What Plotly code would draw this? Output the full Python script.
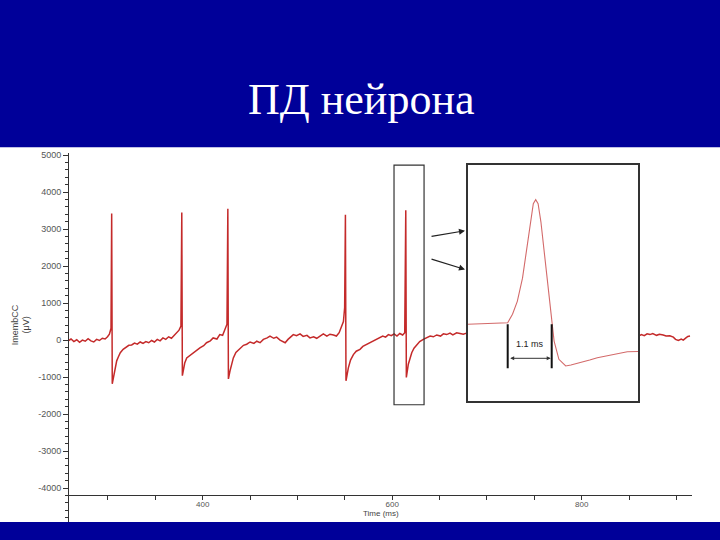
import plotly.graph_objects as go

# Membrane current trace (time in ms, current in µV).
trace_time_left = [
    258, 261, 264, 267, 270, 273, 276, 279, 282, 285, 288, 291, 294, 297, 299.5,
    301.5, 303.2, 303.9, 304.5, 305.6, 307.4, 309.2, 311, 313, 316, 319, 322, 325,
    328, 331, 334, 337, 340, 343, 346, 349, 352, 355, 358, 361, 364, 367, 370,
    372.5, 375, 377, 377.9, 378.5, 379.5, 381, 383.1, 386, 390, 393, 397, 401,
    404, 408, 411, 415, 418, 421, 423.5, 425.6, 426.5, 427.1, 428.8, 430.5, 432.3,
    435, 439.4, 443, 446.4, 450, 454, 457, 460.5, 464, 468, 471, 475, 478, 481.6,
    484, 487, 490, 493, 495.6, 499, 502.7, 506, 510, 513.2, 517, 520.3, 524,
    527.3, 531, 534.3, 538, 541.1, 544, 546.7, 548.5, 549.8, 550.6, 551.2, 553.7,
    556, 559, 562, 566, 569, 573, 576, 580, 583.5, 587, 590, 593, 596, 599, 602,
    605, 608, 611, 613.2, 614.3, 614.9, 617, 620.6, 623, 625.9, 629, 632.8, 636,
    640, 643.4, 647, 651, 654, 657.5, 661, 664, 668, 671.6, 675, 678.5,
]
trace_uv_left = [
    -20, 30, -40, 10, -60, 0, -30, 40, -20, -50, 20, -10, 50, 30, 90,
    160, 320, 3420, -1180, -1010, -750, -560, -450, -340, -250, -200, -140, -130,
    -80, -110, -50, -90, -40, -70, -10, -50, 20, -20, 60, 20, 90, 50, 140,
    190, 270, 380, 3450, -960, -830, -620, -480, -420, -340, -280, -210, -150,
    -70, -20, 60, 30, 150, 130, 300, 430, 3550, -1050, -830, -620, -480,
    -330, -210, -140, -110, -50, -90, -30, -70, 20, 60, 110, 50, 80, 0,
    -40, -70, 20, 90, 150, 120, 170, 100, 130, 60, 90, 50, 120,
    170, 110, 160, 140, 110, 200, 380, 500, 880, 3390, -1100, -750,
    -540, -390, -300, -250, -170, -120, -60, -30, 30, 60, 110, 80, 150, 120, 170,
    110, 180, 140, 200, 3510, -1010, -650, -340, -220, -120, -40, 20, 60,
    110, 90, 140, 110, 170, 150, 190, 140, 200, 180, 160, 190,
]
trace_time_right = [
    860, 863, 866, 869, 872, 875, 879, 882, 886, 889, 893, 896.7, 899, 902, 905,
    907.2, 910, 912, 914.3,
]
trace_uv_right = [
    110, 150, 120, 170, 150, 180, 130, 160, 140, 110, 120, 80, 20, -10, 30,
    0, 60, 100, 110,
]

# Enlarged single action potential (time in ms from window start, µV).
inset_time = [
    0.0, 0.4, 0.8, 1.0, 1.12, 1.24, 1.37, 1.49, 1.58, 1.64, 1.70, 1.76, 1.83,
    1.91, 2.0, 2.08, 2.16, 2.28, 2.45, 2.58, 2.83, 3.05, 3.24, 3.45, 3.66, 3.85,
    3.99, 4.26,
]
inset_uv = [
    0, 10, 28, 42, 280, 644, 1296, 2240, 2976, 3396, 3508, 3396, 2884,
    2044, 1120, 176, -476, -988, -1176, -1150, -1084, -1010, -944, -900, -848,
    -800, -776, -770,
]

spike_start_ms = 1.0
spike_end_ms = 2.1
spike_width_label = "1.1 ms"
marker_depth_uv = -1240
arrow_level_uv = -960

# Spike picked out for the enlargement.
window_time = [601.9, 633.6]
window_uv = [-1747, 4731]
pointer_tails = [(639.9, 2796), (639.9, 2204)]
pointer_tips = [(676.8, 2957), (676.8, 1909)]

y_tick_values = [-4000, -3000, -2000, -1000, 0, 1000, 2000, 3000, 4000, 5000]
y_tick_labels = ["-4000", "-3000", "-2000", "-1000", "0",
                 "1000", "2000", "3000", "4000", "5000"]

TRACE_RED = "#c42a2a"
SLIDE_BLUE = "#000099"
AXIS = "#333333"
W, H = 720, 540


def px_x(x):
    return x / W


def px_y(y):
    return (H - y) / H


fig = go.Figure()
fig.add_scatter(
    x=trace_time_left + [None] + trace_time_right,
    y=trace_uv_left + [None] + trace_uv_right,
    mode="lines",
    line={"color": TRACE_RED, "width": 1.5},
    connectgaps=False,
    hoverinfo="skip",
)
fig.add_scatter(
    x=inset_time,
    y=inset_uv,
    xaxis="x2",
    yaxis="y2",
    mode="lines",
    line={"color": "#d36a6a", "width": 1.1},
    hoverinfo="skip",
)
fig.add_scatter(
    x=[spike_start_ms, spike_start_ms, None, spike_end_ms, spike_end_ms],
    y=[0, marker_depth_uv, None, 0, marker_depth_uv],
    xaxis="x2",
    yaxis="y2",
    mode="lines",
    line={"color": "#111111", "width": 2},
    hoverinfo="skip",
)

label_font = {"family": "Liberation Sans", "size": 9, "color": "#444444"}
annotations = [
    dict(
        text="ПД нейрона", x=px_x(361), y=px_y(97), xref="paper", yref="paper",
        xanchor="center", yanchor="middle", showarrow=False,
        font={"family": "Liberation Serif", "size": 44, "color": "white"},
    ),
    dict(
        text="ImembCC<br>(μV)", x=px_x(21), y=px_y(324), xref="paper", yref="paper",
        xanchor="center", yanchor="middle", textangle=-90, showarrow=False,
        font=label_font,
    ),
    dict(
        text="Time (ms)", x=px_x(381), y=px_y(513), xref="paper", yref="paper",
        xanchor="center", yanchor="middle", showarrow=False,
        font={"family": "Liberation Sans", "size": 8, "color": "#444444"},
    ),
    dict(
        text=spike_width_label, x=(spike_start_ms + spike_end_ms) / 2, y=-560,
        xref="x2", yref="y2", xanchor="center", yanchor="middle", showarrow=False,
        font={"family": "Liberation Sans", "size": 9, "color": "#222222"},
    ),
    dict(
        x=spike_end_ms, y=arrow_level_uv, ax=spike_start_ms, ay=arrow_level_uv,
        xref="x2", yref="y2", axref="x2", ayref="y2", text="",
        showarrow=True, arrowhead=2, arrowside="end+start", arrowsize=0.8,
        arrowwidth=1, arrowcolor="#333333", standoff=1, startstandoff=1,
    ),
]
for (tx, ty), (hx, hy) in zip(pointer_tails, pointer_tips):
    annotations.append(
        dict(
            x=hx, y=hy, ax=tx, ay=ty, xref="x", yref="y", axref="x", ayref="y",
            text="", showarrow=True, arrowhead=2, arrowsize=1, arrowwidth=1.2,
            arrowcolor="#222222",
        )
    )

shapes = [
    dict(type="rect", xref="paper", yref="paper", x0=-0.02, x1=1.02,
         y0=px_y(145), y1=1.03,
         fillcolor=SLIDE_BLUE, line={"width": 0}, layer="below"),
    dict(type="rect", xref="paper", yref="paper", x0=-0.02, x1=1.02,
         y0=-0.03, y1=px_y(522),
         fillcolor=SLIDE_BLUE, line={"width": 0}, layer="below"),
    dict(type="rect", xref="x", yref="y", x0=window_time[0], x1=window_time[1],
         y0=window_uv[0], y1=window_uv[1], line={"color": AXIS, "width": 1.2}),
]

fig.update_layout(
    width=W,
    height=H,
    margin={"l": 0, "r": 0, "t": 0, "b": 0},
    paper_bgcolor="white",
    plot_bgcolor="rgba(0,0,0,0)",
    showlegend=False,
    annotations=annotations,
    shapes=shapes,
    xaxis={
        "domain": [px_x(68), px_x(692)],
        "range": [257.8, 916.4],
        "anchor": "free",
        "position": px_y(495),
        "showline": True,
        "linecolor": AXIS,
        "linewidth": 1,
        "ticks": "outside",
        "ticklen": 4,
        "tickcolor": AXIS,
        "tick0": 0,
        "dtick": 200,
        "ticklabelstandoff": -3,
        "minor": {"dtick": 50, "ticks": "outside", "ticklen": 4, "tickcolor": AXIS},
        "tickfont": {"family": "Liberation Sans", "size": 8, "color": "#555555"},
        "showgrid": False,
        "zeroline": False,
    },
    yaxis={
        "domain": [px_y(522), px_y(151)],
        "range": [-4919, 5054],
        "anchor": "free",
        "position": px_x(68),
        "showline": True,
        "linecolor": AXIS,
        "linewidth": 1,
        "ticks": "outside",
        "ticklen": 5,
        "tickcolor": AXIS,
        "tickvals": y_tick_values,
        "ticktext": y_tick_labels,
        "minor": {"dtick": 200, "ticks": "outside", "ticklen": 3, "tickcolor": AXIS},
        "tickfont": {"family": "Liberation Sans", "size": 9, "color": "#555555"},
        "showgrid": False,
        "zeroline": False,
    },
    xaxis2={
        "domain": [px_x(467.7), px_x(638.3)],
        "range": [0, 4.265],
        "anchor": "y2",
        "showline": True,
        "mirror": True,
        "linecolor": AXIS,
        "linewidth": 1.5,
        "showticklabels": False,
        "ticks": "",
        "showgrid": False,
        "zeroline": False,
    },
    yaxis2={
        "domain": [px_y(400), px_y(163.3)],
        "range": [-2156, 4472],
        "anchor": "x2",
        "showline": True,
        "mirror": True,
        "linecolor": AXIS,
        "linewidth": 1.5,
        "showticklabels": False,
        "ticks": "",
        "showgrid": False,
        "zeroline": False,
    },
)

fig.write_html(
    "out.html",
    config={"displayModeBar": False},
    post_script="document.body.style.margin='0';document.body.style.overflow='hidden';",
)
